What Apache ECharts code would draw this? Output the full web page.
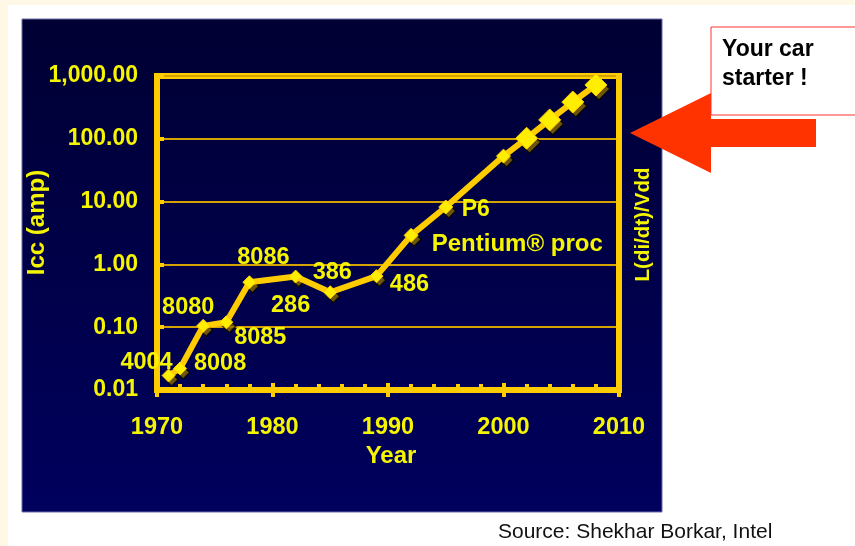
<!DOCTYPE html>
<html><head><meta charset="utf-8">
<script src="https://cdn.jsdelivr.net/npm/echarts@6/dist/echarts.min.js"></script>
<style>html,body{margin:0;padding:0;background:#fff;} #c{width:855px;height:546px;}</style>
</head><body><div id="c"></div>
<script>
// ---- data ----
const years   = [1971, 1972, 1974, 1976, 1978, 1982, 1985, 1989, 1992, 1995, 2000, 2002, 2004, 2006, 2008];
const iccAmps = [0.017, 0.022, 0.105, 0.12, 0.52, 0.64, 0.36, 0.65, 2.9, 8.2, 53, 102, 200, 385, 720];
const chipNames = ['4004', '8008', '8080', '8085', '8086', '286', '386', '486', '', 'P6', '', '', '', '', ''];
const p6Note = 'Pentium® proc';
const yTickLabels = ['0.01', '0.10', '1.00', '10.00', '100.00', '1,000.00'];
const xTickLabels = ['1970', '1980', '1990', '2000', '2010'];

// ---- styling ----
const GOLD = '#ffcc00';
const TXT = '#f5f500';
const FONT = 'Liberation Sans';
const labelOffsets = {
  '4004': [-22, -13], '8008': [40, -5], '8080': [-15, -18], '8085': [34, 15],
  '8086': [14, -25], '286': [-5, 29], '386': [2, -20], '486': [33, 8]
};
function symSize(i) { return i >= 11 ? 22 : (i >= 8 ? 14 : 13); }

const lineData = years.map((y, i) => {
  const name = chipNames[i];
  const item = { value: [y, iccAmps[i]], symbolSize: symSize(i) };
  if (name === 'P6') {
    item.label = {
      show: true, position: 'inside', align: 'left', verticalAlign: 'middle', offset: [-14, 20],
      formatter: '{a|' + name + '}\n{b|' + p6Note + '}',
      rich: {
        a: { color: TXT, fontFamily: FONT, fontWeight: 'bold', fontSize: 23, lineHeight: 35, padding: [0, 0, 0, 30] },
        b: { color: TXT, fontFamily: FONT, fontWeight: 'bold', fontSize: 24, lineHeight: 35 }
      }
    };
  } else if (name) {
    item.label = {
      show: true, position: 'inside', align: 'center', verticalAlign: 'middle',
      offset: labelOffsets[name], formatter: name,
      color: TXT, fontFamily: FONT, fontWeight: 'bold', fontSize: 23.5
    };
  }
  return item;
});
const shadowData = years.map((y, i) => ({ value: [y, iccAmps[i]], symbolSize: symSize(i) }));

const chart = echarts.init(document.getElementById('c'), null, { renderer: 'canvas' });
chart.setOption({
  backgroundColor: '#ffffff',
  animation: false,
  graphic: [
    { type: 'rect', z: -10, silent: true, shape: { x: 0, y: 0, width: 855, height: 5 }, style: { fill: '#fff8e6' } },
    { type: 'rect', z: -10, silent: true, shape: { x: 0, y: 0, width: 8, height: 546 }, style: { fill: '#fff8e6' } },
    { type: 'rect', z: -9, silent: true, shape: { x: 22, y: 19, width: 640, height: 493 },
      style: { fill: { type: 'linear', x: 0, y: 0, x2: 0, y2: 1,
        colorStops: [{ offset: 0, color: '#000033' }, { offset: 1, color: '#00005e' }] },
        stroke: '#6a6aa8', lineWidth: 1 } },
    { type: 'polygon', z: 50, silent: true,
      shape: { points: [[630, 133], [711, 93], [711, 119], [816, 119], [816, 147], [711, 147], [711, 173]] },
      style: { fill: '#ff3300' } },
    { type: 'rect', z: 51, silent: true, shape: { x: 711, y: 27, width: 150, height: 88 },
      style: { fill: '#ffffff', stroke: '#ff3333', lineWidth: 1 } },
    { type: 'text', z: 52, silent: true,
      style: { x: 722, y: 35, text: 'Your car\nstarter !', font: 'bold 23px "Liberation Sans"', lineHeight: 29,
        fill: '#000000', verticalAlign: 'top', align: 'left' } },
    { type: 'text', z: 52, silent: true,
      style: { x: 498, y: 532, text: 'Source: Shekhar Borkar, Intel', font: '21px "Liberation Sans"',
        fill: '#111111', verticalAlign: 'middle', align: 'left' } }
  ],
  grid: {
    left: 157, right: 236, top: 76, bottom: 156,
    show: true, borderColor: GOLD, borderWidth: 6, backgroundColor: 'transparent',
    containLabel: false, outerBoundsMode: 'none'
  },
  xAxis: [
    {
      type: 'value', min: 1970, max: 2010, interval: 10, position: 'bottom',
      axisLine: { show: true, onZero: false, lineStyle: { color: GOLD, width: 6 } },
      axisTick: { show: true, inside: false, length: 7, lineStyle: { color: GOLD, width: 4 } },
      minorTick: { show: false },
      splitLine: { show: false },
      axisLabel: { margin: 26, color: TXT, fontFamily: FONT, fontWeight: 'bold', fontSize: 23.5,
        formatter: v => xTickLabels[Math.round((v - 1970) / 10)] },
      name: 'Year', nameLocation: 'middle', nameGap: 54, nameMoveOverlap: false,
      nameTextStyle: { color: TXT, fontFamily: FONT, fontWeight: 'bold', fontSize: 24, padding: [0, 0, 0, 6] }
    },
    {
      type: 'value', min: 1970, max: 2010, interval: 10, position: 'bottom',
      axisLine: { show: false, onZero: false },
      axisTick: { show: true, inside: true, length: 7, lineStyle: { color: GOLD, width: 4 } },
      minorTick: { show: true, splitNumber: 5, length: 6, lineStyle: { color: GOLD, width: 4 } },
      splitLine: { show: false },
      axisLabel: { show: false }
    }
  ],
  yAxis: [
    {
      type: 'log', logBase: 10, min: 0.01, max: 1000, position: 'left',
      axisLine: { show: true, onZero: false, lineStyle: { color: GOLD, width: 6 } },
      axisTick: { show: true, inside: true, length: 7, lineStyle: { color: GOLD, width: 4 } },
      splitLine: { show: true, lineStyle: { color: '#d4a300', width: 2 } },
      axisLabel: { margin: 19, color: TXT, fontFamily: FONT, fontWeight: 'bold', fontSize: 23,
        padding: [6, 0, 0, 0],
        formatter: v => yTickLabels[Math.round(Math.log10(v)) + 2] },
      name: 'Icc (amp)', nameLocation: 'middle', nameRotate: 90, nameGap: 108, nameMoveOverlap: false,
      nameTextStyle: { color: TXT, fontFamily: FONT, fontWeight: 'bold', fontSize: 24, padding: [0, 0, 0, 21] }
    },
    {
      type: 'log', logBase: 10, min: 0.01, max: 1000, position: 'right',
      axisLine: { show: true, onZero: false, lineStyle: { color: GOLD, width: 6 } },
      axisTick: { show: false }, axisLabel: { show: false }, splitLine: { show: false },
      name: 'L(di/dt)/Vdd', nameLocation: 'middle', nameRotate: 90, nameGap: 14, nameMoveOverlap: false,
      nameTextStyle: { color: TXT, fontFamily: FONT, fontWeight: 'bold', fontSize: 20.5, padding: [0, 0, 0, 17] }
    }
  ],
  series: [
    {
      type: 'scatter', xAxisIndex: 0, yAxisIndex: 0, z: 2, silent: true,
      symbol: 'diamond', symbolOffset: [3, 4],
      itemStyle: { color: '#8a6a00', borderColor: '#000000', borderWidth: 1.5 },
      data: shadowData
    },
    {
      type: 'line', xAxisIndex: 0, yAxisIndex: 0, z: 3,
      symbol: 'diamond', showAllSymbol: true,
      lineStyle: { color: GOLD, width: 6 },
      itemStyle: { color: '#ffee00', borderColor: GOLD, borderWidth: 1 },
      data: lineData
    }
  ]
});
</script>
</body></html>
